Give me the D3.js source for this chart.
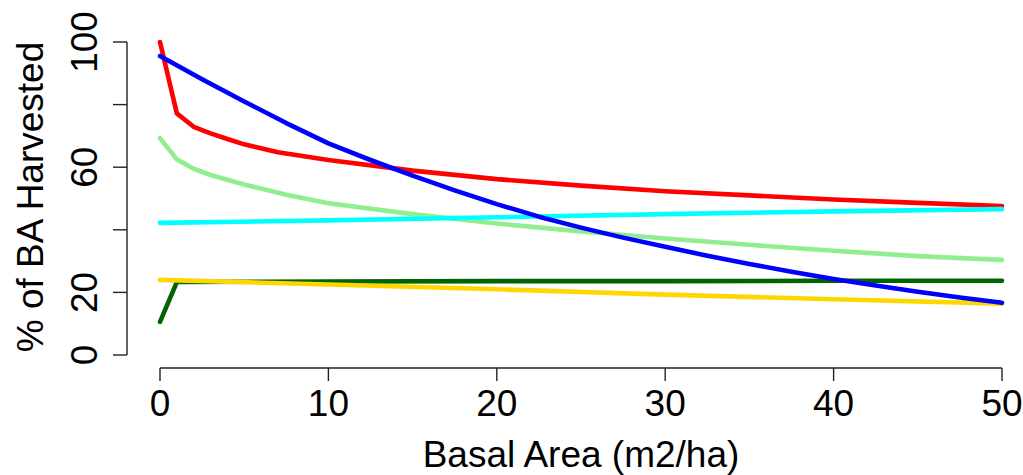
<!DOCTYPE html>
<html>
<head>
<meta charset="utf-8">
<script src="https://cdn.jsdelivr.net/npm/d3@7"></script>
<style>
  html, body { margin: 0; padding: 0; background: #fff; }
  svg { display: block; font-family: "Liberation Sans", Arial, sans-serif; }
</style>
</head>
<body>
<svg id="chart" width="1023" height="475"></svg>
<script>
// ---- data ----
const xTicks = [0, 10, 20, 30, 40, 50];
const yTicks = [0, 20, 40, 60, 80, 100];
const yTickLabels = ["0", "20", "", "60", "", "100"];

const redX   = [0, 1, 2, 3, 4, 5, 7, 10, 15, 20, 25, 30, 35, 40, 45, 50];
const redY   = [100, 77.2, 72.9, 70.8, 69, 67.3, 64.8, 62.3, 58.9, 56.2, 54.1, 52.3, 51, 49.7, 48.6, 47.6];

const lgreenX = [0, 1, 2, 3, 5, 7.5, 10, 15, 20, 25, 30, 35, 40, 45, 50];
const lgreenY = [69.3, 62.5, 59.5, 57.5, 54.5, 51.2, 48.5, 45, 42, 39.5, 37.2, 35.2, 33.3, 31.6, 30.4];

const cyanX = [0, 10, 20, 30, 40, 50];
const cyanY = [42.2, 43, 44, 45, 45.9, 46.6];

const dgreenX = [0, 1, 10, 20, 30, 40, 50];
const dgreenY = [10.6, 23.3, 23.5, 23.6, 23.6, 23.7, 23.7];

const yellowX = [0, 10, 20, 30, 40, 50];
const yellowY = [24, 22.5, 21, 19.3, 17.8, 16.4];

const blueX = [0, 2.5, 5, 7.5, 10, 12.5, 15, 17.5, 20, 22.5, 25, 27.5, 30, 32.5, 35, 37.5, 40, 42.5, 45, 47.5, 50];
const blueY = [95.5, 88.1, 81, 74.1, 67.6, 62.3, 57.3, 52.6, 48.2, 44.2, 40.7, 37.5, 34.6, 31.7, 29.1, 26.6, 24.3, 22.2, 20.2, 18.4, 16.7];

const series = [
  { name: "red",        color: "#FF0000", x: redX,    y: redY },
  { name: "lightgreen", color: "#90EE90", x: lgreenX, y: lgreenY },
  { name: "cyan",       color: "#00FFFF", x: cyanX,   y: cyanY },
  { name: "darkgreen",  color: "#006400", x: dgreenX, y: dgreenY },
  { name: "gold",       color: "#FFD700", x: yellowX, y: yellowY },
  { name: "blue",       color: "#0000FF", x: blueX,   y: blueY }
];

// ---- layout ----
const svg = d3.select("#chart");
const x = d3.scaleLinear().domain([0, 50]).range([160, 1002]);
const y = d3.scaleLinear().domain([0, 100]).range([355, 42]);
const fontSize = 37;

// lines
const line = d3.line().x(d => x(d[0])).y(d => y(d[1]));
series.forEach(s => {
  const pts = s.x.map((v, i) => [v, s.y[i]]);
  svg.append("path")
    .attr("d", line(pts))
    .attr("fill", "none")
    .attr("stroke", s.color)
    .attr("stroke-width", 4.6)
    .attr("stroke-linejoin", "round")
    .attr("stroke-linecap", "round");
});

// x axis
const xAxisY = 368;
const gx = svg.append("g").attr("transform", `translate(0,${xAxisY})`);
gx.append("line").attr("x1", x(0)).attr("x2", x(50)).attr("y1", 0).attr("y2", 0)
  .attr("stroke", "#222").attr("stroke-width", 1.4);
xTicks.forEach(t => {
  gx.append("line").attr("x1", x(t)).attr("x2", x(t)).attr("y1", 0).attr("y2", 13)
    .attr("stroke", "#222").attr("stroke-width", 1.4);
  gx.append("text").attr("x", x(t)).attr("y", 48)
    .attr("text-anchor", "middle").attr("font-size", fontSize).attr("fill", "#000")
    .text(t);
});
svg.append("text").attr("x", 581).attr("y", 467)
  .attr("text-anchor", "middle").attr("font-size", fontSize).attr("fill", "#000")
  .text("Basal Area (m2/ha)");

// y axis
const yAxisX = 127;
const gy = svg.append("g").attr("transform", `translate(${yAxisX},0)`);
gy.append("line").attr("x1", 0).attr("x2", 0).attr("y1", y(0)).attr("y2", y(100))
  .attr("stroke", "#222").attr("stroke-width", 1.4);
yTicks.forEach((t, i) => {
  gy.append("line").attr("x1", -14).attr("x2", 0).attr("y1", y(t)).attr("y2", y(t))
    .attr("stroke", "#222").attr("stroke-width", 1.4);
  if (yTickLabels[i]) {
    gy.append("text")
      .attr("transform", `translate(-30,${y(t)}) rotate(-90)`)
      .attr("text-anchor", "middle").attr("font-size", fontSize).attr("fill", "#000")
      .text(yTickLabels[i]);
  }
});
svg.append("text")
  .attr("transform", `translate(43,197) rotate(-90)`)
  .attr("text-anchor", "middle").attr("font-size", fontSize).attr("fill", "#000")
  .text("% of BA Harvested");
</script>
</body>
</html>
